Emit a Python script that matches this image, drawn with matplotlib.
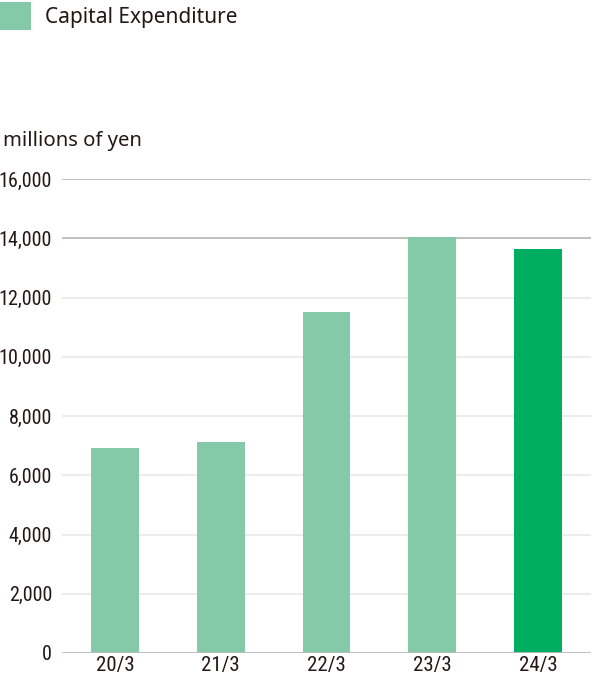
import matplotlib
matplotlib.use("Agg")
import matplotlib.pyplot as plt
from matplotlib.patches import Rectangle

categories = ["20/3", "21/3", "22/3", "23/3", "24/3"]
capex = [6910, 7130, 11510, 14050, 13640]
yticks = [0, 2000, 4000, 6000, 8000, 10000, 12000, 14000, 16000]
legend_label = "Capital Expenditure"
unit_label = "millions of yen"

light = "#84C9A8"
dark = "#00AE62"
colors = [light] * (len(categories) - 1) + [dark]

tick_font = ["Roboto Condensed", "DejaVu Sans"]
text_font = ["Noto Sans", "DejaVu Sans"]
txt_color = "#231815"

fig = plt.figure(figsize=(6.0, 6.8), dpi=100)
ax = fig.add_axes([62/600, 27/680, 529/600, 474/680])

x = range(len(categories))
ax.bar(x, capex, width=0.45, color=colors, zorder=3)
ax.set_xlim(-0.5, len(categories) - 0.5)
ax.set_ylim(0, 16000)
ax.set_yticks(yticks)
ax.set_yticklabels([f"{v:,}" for v in yticks], fontfamily=tick_font,
                   fontsize=14.5, color=txt_color)
ax.set_xticks(list(x))
ax.set_xticklabels(categories, fontfamily=tick_font, fontsize=15, color=txt_color)
ax.tick_params(axis="both", length=0)
ax.tick_params(axis="y", pad=7.2)
ax.tick_params(axis="x", pad=2.5)
for s in ax.spines.values():
    s.set_visible(False)

for v in yticks:
    c = "#BBBBBB" if v in (0, 14000, 16000) else "#EBEBEB"
    ax.axhline(v, color=c, lw=1.3, zorder=1 if v else 4)

fig.patches.append(Rectangle((0, 1 - 30/680), 31/600, 28/680, transform=fig.transFigure,
                             facecolor=light, edgecolor="none"))
fig.text(45/600, 1 - 17/680, legend_label, fontfamily=text_font, fontsize=15,
         color=txt_color, va="center", ha="left")
fig.text(3/600, 1 - 141/680, unit_label, fontfamily=text_font, fontsize=14.6,
         color=txt_color, va="center", ha="left")

fig.savefig("out.png", dpi=100)
